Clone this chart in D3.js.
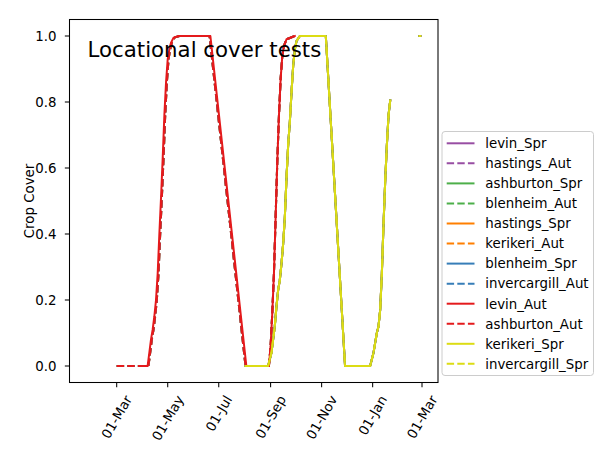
<!DOCTYPE html>
<html>
<head>
<meta charset="utf-8">
<script src="https://cdn.jsdelivr.net/npm/d3@7"></script>
<style>
  html, body { margin: 0; padding: 0; background: #fff; }
  svg { display: block; font-family: "DejaVu Sans", sans-serif; }
</style>
</head>
<body>
<svg id="chart" width="615" height="461"></svg>
<script>
// ---------------- data ----------------
const seriesNames = ["levin_Spr","hastings_Aut","ashburton_Spr","blenheim_Aut","hastings_Spr","kerikeri_Aut","blenheim_Spr","invercargill_Aut","levin_Aut","ashburton_Aut","kerikeri_Spr","invercargill_Spr"];
const seriesColors = ["#984ea3","#984ea3","#4daf4a","#4daf4a","#ff7f00","#ff7f00","#377eb8","#377eb8","#e41a1c","#e41a1c","#dcdc14","#dcdc14"];
const seriesDashed = [false,true,false,true,false,true,false,true,false,true,false,true];
const seriesCurve = ["spr","aut","spr","aut","spr","aut","spr","aut","levinAut","aut","spr","spr"];

// autumn-sown curve (shared)
const autDates = ["2018-03-01","2018-04-08","2018-04-10","2018-04-12","2018-04-14","2018-04-16","2018-04-18","2018-04-20","2018-04-22","2018-04-24","2018-04-26","2018-04-28","2018-04-30","2018-05-02","2018-05-04","2018-05-06","2018-05-09","2018-05-15","2018-06-20","2018-08-02","2018-08-30","2018-09-01","2018-09-03","2018-09-05","2018-09-07","2018-09-09","2018-09-11","2018-09-13","2018-09-15","2018-09-17","2018-09-20","2018-09-30"];
const autCover = [0,0,0.04,0.08,0.11,0.15,0.20,0.28,0.40,0.51,0.63,0.76,0.86,0.93,0.96,0.98,0.995,1.0,1.0,0,0,0.06,0.16,0.28,0.45,0.62,0.76,0.87,0.94,0.97,0.99,1.0];

// levin_Aut (slightly different first crop)
const levinAutDates = ["2018-04-01","2018-04-07","2018-04-09","2018-04-11","2018-04-13","2018-04-15","2018-04-17","2018-04-19","2018-04-21","2018-04-23","2018-04-25","2018-04-27","2018-04-29","2018-05-01","2018-05-03","2018-05-05","2018-05-08","2018-05-14","2018-06-21","2018-08-03","2018-08-30","2018-09-01","2018-09-03","2018-09-05","2018-09-07","2018-09-09","2018-09-11","2018-09-13","2018-09-15","2018-09-17","2018-09-20","2018-09-30"];
const levinAutCover = [0,0,0.04,0.08,0.11,0.15,0.20,0.28,0.40,0.51,0.63,0.76,0.86,0.93,0.96,0.98,0.995,1.0,1.0,0,0,0.06,0.16,0.28,0.45,0.62,0.76,0.87,0.94,0.97,0.99,1.0];

// spring-sown curve (shared); null = gap
const sprDates = ["2018-08-02","2018-08-29","2018-08-31","2018-09-02","2018-09-04","2018-09-06","2018-09-08","2018-09-10","2018-09-12","2018-09-14","2018-09-16","2018-09-18","2018-09-20","2018-09-22","2018-09-24","2018-09-26","2018-09-28","2018-09-30","2018-10-02","2018-10-06","2018-11-06","2018-11-29","2018-12-29","2018-12-31","2019-01-02","2019-01-04","2019-01-06","2019-01-08","2019-01-10","2019-01-12","2019-01-14","2019-01-16","2019-01-18","2019-01-20","2019-01-22","2019-01-23","2019-02-26","2019-02-27"];
const sprCover = [0,0,0.02,0.04,0.08,0.12,0.18,0.23,0.26,0.31,0.37,0.45,0.57,0.67,0.74,0.83,0.91,0.96,0.985,1.0,1.0,0,0,0.02,0.04,0.07,0.10,0.12,0.17,0.28,0.43,0.56,0.67,0.76,0.805,null,1.0,1.0];

const yTicks = [0.0,0.2,0.4,0.6,0.8,1.0];
const xTickDates = ["2018-03-01","2018-05-01","2018-07-01","2018-09-01","2018-11-01","2019-01-01","2019-03-01"];
const xDomainDates = ["2018-01-03T14:00","2019-03-20T03:00"];
const titleText = "Locational cover tests";
const yLabel = "Crop Cover";

// ---------------- drawing ----------------
const parseDay = d3.timeParse("%Y-%m-%d");
const parseDT = d3.timeParse("%Y-%m-%dT%H:%M");
const svg = d3.select("#chart");
const L = 69.5, R = 438, T = 19.5, B = 382.5;
const x = d3.scaleTime().domain(xDomainDates.map(parseDT)).range([L, R]);
const y = d3.scaleLinear().domain([-0.05, 1.05]).range([B, T]);

const curves = {
  aut: autDates.map((d,i)=>({d:parseDay(d), v:autCover[i]})),
  levinAut: levinAutDates.map((d,i)=>({d:parseDay(d), v:levinAutCover[i]})),
  spr: sprDates.map((d,i)=>({d:parseDay(d), v:sprCover[i]}))
};
const line = d3.line().defined(p=>p.v!=null).x(p=>x(p.d)).y(p=>y(p.v));

const lw = 2.0;
const dash = "7.4,3.2";
const tickLen = 4.67;
const gLines = svg.append("g");
seriesNames.forEach((n,i)=>{
  gLines.append("path")
    .attr("d", line(curves[seriesCurve[i]]))
    .attr("fill","none")
    .attr("stroke", seriesColors[i])
    .attr("stroke-width", lw)
    .attr("stroke-linejoin","round")
    .attr("stroke-linecap", seriesDashed[i] ? "butt" : "square")
    .attr("stroke-dasharray", seriesDashed[i] ? dash : null);
});

// spines
svg.append("rect").attr("x",L).attr("y",T).attr("width",R-L).attr("height",B-T)
  .attr("fill","none").attr("stroke","#000").attr("stroke-width",1.05);

// y axis ticks
const fs = 13.35;
yTicks.forEach(t=>{
  const yy = y(t);
  svg.append("line").attr("x1",L-tickLen).attr("x2",L).attr("y1",yy).attr("y2",yy)
    .attr("stroke","#000").attr("stroke-width",1.05);
  svg.append("text").attr("x",L-13).attr("y",yy).attr("dy","0.36em")
    .attr("text-anchor","end").attr("font-size",fs).attr("fill","#000")
    .text(d3.format(".1f")(t));
});
svg.append("text").attr("transform",`translate(29.5,${(T+B)/2}) rotate(-90)`)
  .attr("text-anchor","middle").attr("dy","0.36em").attr("font-size",fs).attr("fill","#000")
  .text(yLabel);

// x axis ticks
const fmt = d3.timeFormat("%d-%b");
xTickDates.forEach(ds=>{
  const dt = parseDay(ds);
  const xx = x(dt);
  svg.append("line").attr("x1",xx).attr("x2",xx).attr("y1",B).attr("y2",B+tickLen)
    .attr("stroke","#000").attr("stroke-width",1.05);
  const t = svg.append("text").attr("font-size",fs).attr("fill","#000")
    .attr("text-anchor","middle").attr("dy","0.36em").text(fmt(dt));
  const w = t.node().getComputedTextLength();
  const h = fs*1.17;
  const a = Math.PI/3;
  const rh = w*Math.sin(a) + h*Math.cos(a);
  const cy = B + tickLen + 5.5 + rh/2;
  t.attr("transform",`translate(${xx},${cy}) rotate(-60)`);
});

// title inside axes
svg.append("text").attr("x",87.5).attr("y",56.8).attr("font-size",21.3).attr("fill","#000")
  .text(titleText);

// legend
const lgX = 442, lgY = 131.5, lgW = 151.5, lgH = 244;
svg.append("rect").attr("x",lgX).attr("y",lgY).attr("width",lgW).attr("height",lgH)
  .attr("rx",3).attr("fill","#fff").attr("fill-opacity",0.8)
  .attr("stroke","#cccccc").attr("stroke-width",1);
seriesNames.forEach((n,i)=>{
  const yy = 143.3 + i*20.05;
  svg.append("line").attr("x1",446.7).attr("x2",474.5).attr("y1",yy).attr("y2",yy)
    .attr("stroke",seriesColors[i]).attr("stroke-width",lw)
    .attr("stroke-dasharray", seriesDashed[i] ? dash : null);
  svg.append("text").attr("x",485.3).attr("y",yy).attr("dy","0.36em")
    .attr("font-size",fs).attr("fill","#000").text(n);
});
</script>
</body>
</html>
